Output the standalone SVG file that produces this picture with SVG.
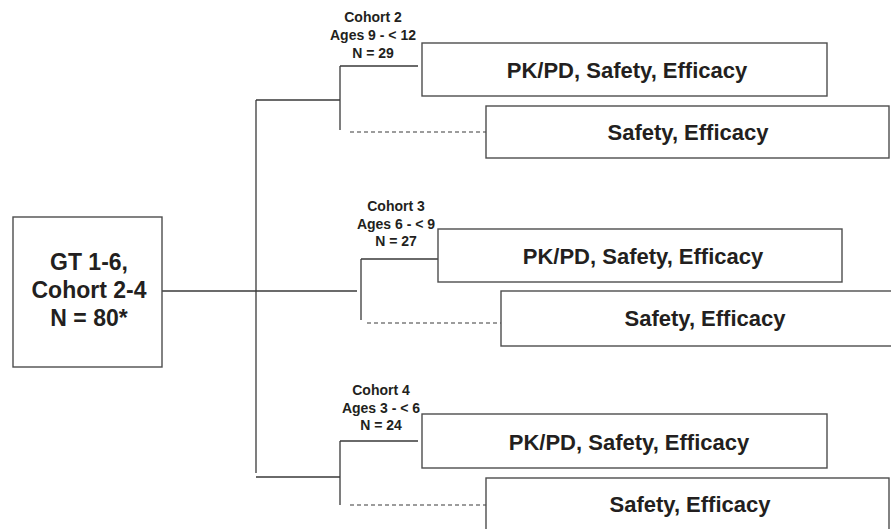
<svg xmlns="http://www.w3.org/2000/svg" width="891" height="529" viewBox="0 0 891 529">
<style>
.box{fill:#fff;stroke:#4d4d4d;stroke-width:1.4}
.ln{fill:none;stroke:#3a3a3a;stroke-width:1.3}
.dash{fill:none;stroke:#3a3a3a;stroke-width:1.2;stroke-dasharray:4 3}
.big{font-family:"Liberation Sans",Arial,sans-serif;font-weight:bold;font-size:22px;fill:#231f20;text-anchor:middle}
.root{font-size:23px}
.lbl{font-family:"Liberation Sans",Arial,sans-serif;font-weight:bold;font-size:14px;fill:#231f20;text-anchor:middle}
</style>
<rect width="891" height="529" fill="#fff"/>
<g id="connectors">
<path class="ln" d="M162 291H357"/>
<path class="ln" d="M256 100V473"/>
<path class="ln" d="M256 100H340M340 66V130M340 66H418"/>
<path class="dash" d="M350 132H486"/>
<path class="ln" d="M361 259V320M361 259H438"/>
<path class="dash" d="M367 323H501"/>
<path class="ln" d="M256 477H340M340 441V505M340 441H418"/>
<path class="dash" d="M350 505H486"/>
</g>
<g id="root">
<rect class="box" x="13" y="217" width="149" height="150"/>
<text class="big root"><tspan x="89" y="270">GT 1-6,</tspan><tspan x="89" y="298">Cohort 2-4</tspan><tspan x="89" y="326">N = 80*</tspan></text>
</g>
<g id="cohort2-label">
<text class="lbl"><tspan x="373" y="22">Cohort 2</tspan><tspan x="373" y="40">Ages 9 - &lt; 12</tspan><tspan x="373" y="58">N = 29</tspan></text>
</g>
<g id="c2-pkpd">
<rect class="box" x="422" y="43" width="405" height="53"/>
<text class="big" x="627" y="78">PK/PD, Safety, Efficacy</text>
</g>
<g id="c2-safety">
<rect class="box" x="486" y="106" width="403" height="52"/>
<text class="big" x="688" y="140">Safety, Efficacy</text>
</g>
<g id="cohort3-label">
<text class="lbl"><tspan x="396" y="211">Cohort 3</tspan><tspan x="396" y="229">Ages 6 - &lt; 9</tspan><tspan x="396" y="246">N = 27</tspan></text>
</g>
<g id="c3-pkpd">
<rect class="box" x="438" y="229" width="404" height="53"/>
<text class="big" x="643" y="264">PK/PD, Safety, Efficacy</text>
</g>
<g id="c3-safety">
<rect class="box" x="501" y="291" width="400" height="55"/>
<text class="big" x="705" y="326">Safety, Efficacy</text>
</g>
<g id="cohort4-label">
<text class="lbl"><tspan x="381" y="395">Cohort 4</tspan><tspan x="381" y="413">Ages 3 - &lt; 6</tspan><tspan x="381" y="430">N = 24</tspan></text>
</g>
<g id="c4-pkpd">
<rect class="box" x="422" y="414" width="405" height="54"/>
<text class="big" x="629" y="450">PK/PD, Safety, Efficacy</text>
</g>
<g id="c4-safety">
<rect class="box" x="486" y="478" width="403" height="60"/>
<text class="big" x="690" y="512">Safety, Efficacy</text>
</g>
</svg>
